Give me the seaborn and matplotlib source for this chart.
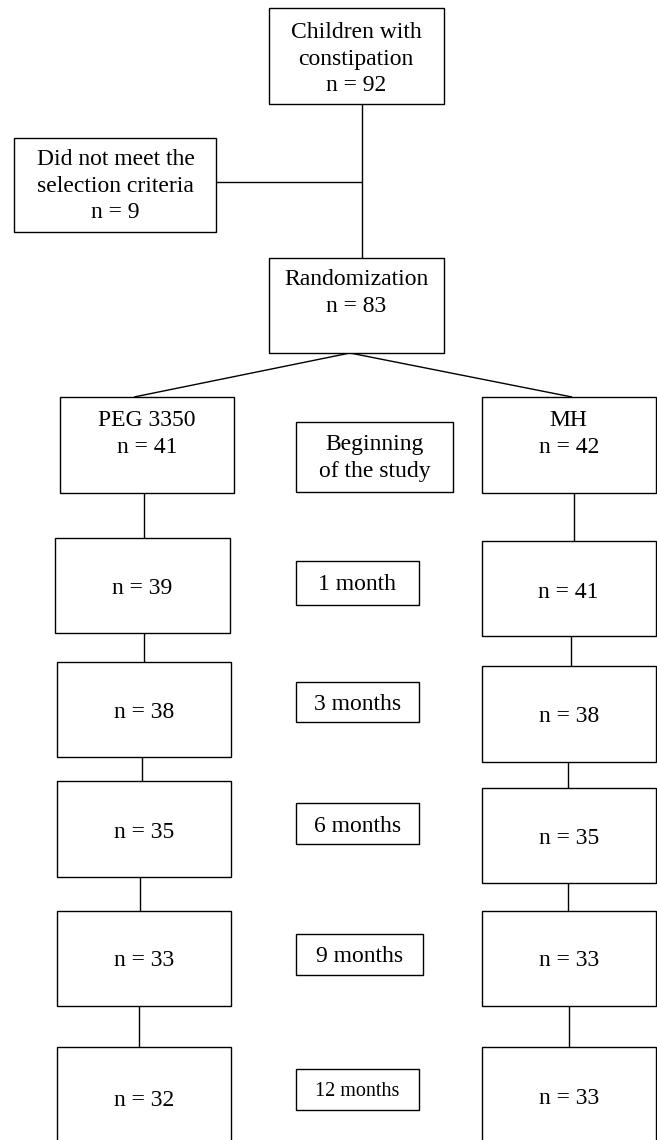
import matplotlib
matplotlib.use("Agg")
import matplotlib.pyplot as plt
from matplotlib.patches import Rectangle
import seaborn as sns

# flow numbers
screened_n = 92
excluded_n = 9
randomized_n = 83
groups = ["PEG 3350", "MH"]
timepoints = ["Beginning\nof the study", "1 month", "3 months", "6 months", "9 months", "12 months"]
peg_n = [41, 39, 38, 35, 33, 32]
mh_n = [42, 41, 38, 35, 33, 33]

sns.set_theme(style="white")
plt.rcParams["font.family"] = ["Liberation Serif", "DejaVu Serif"]

fig = plt.figure(figsize=(6.57, 11.4), dpi=100)
ax = fig.add_axes([0, 0, 1, 1])
ax.set_xlim(0, 657)
ax.set_ylim(1140, 0)
ax.axis("off")

FS = 17
LW = 1.0


def box(x0, x1, y0, y1):
    ax.add_patch(Rectangle((x0, y0), x1 - x0, y1 - y0, fill=True, fc="white",
                           ec="black", lw=LW, zorder=2))


def label(x, y, s, size=FS):
    ax.text(x, y, s, ha="center", va="center", fontsize=size, color="black",
            linespacing=1.36, zorder=3)


def line(xs, ys):
    ax.plot(xs, ys, color="black", lw=LW, zorder=1, solid_capstyle="butt")


# top part
box(268.7, 443.7, 8, 104)
label(356, 59, "Children with\nconstipation\nn = %d" % screened_n)
line([361.5, 361.5], [104, 258])

box(14, 216, 138, 232)
label(115.5, 186, "Did not meet the\nselection criteria\nn = %d" % excluded_n)
line([216, 361.5], [182, 182])

box(268.7, 443.7, 258, 353)
label(356, 293, "Randomization\nn = %d" % randomized_n)
line([350, 134], [353, 397])
line([350, 572], [353, 397])

# arm columns
left_x = [(59.6, 234), (55, 229.6), (56.7, 231), (56.7, 231), (56.7, 231), (56.7, 231)]
left_y = [(397, 493), (538, 633), (662, 757), (781, 877), (911, 1006), (1047, 1143)]
left_ty = [434, 588, 713, 833, 961, 1100]
left_line_x = [143.6, 143.6, 141.5, 140, 139]

right_x = (481.5, 656)
right_y = [(397, 493), (541, 636), (666, 762), (788, 883), (911, 1006), (1047, 1143)]
right_ty = [434, 592, 717, 838, 961, 1099]
right_line_x = [574, 570.5, 568, 568, 569]

mid_x = [(296, 453), (296, 419), (296, 419), (296, 419), (296, 423), (296, 419)]
mid_y = [(422, 492), (561, 605), (682, 722), (803, 844), (934, 975), (1069, 1110)]
mid_ty = [458, 584, 704, 826, 957, 1091]

for i in range(len(timepoints)):
    # PEG arm
    box(left_x[i][0], left_x[i][1], left_y[i][0], left_y[i][1])
    cx = (left_x[i][0] + left_x[i][1]) / 2
    if i == 0:
        label(cx, left_ty[i], "%s\nn = %d" % (groups[0], peg_n[i]))
    else:
        label(cx, left_ty[i], "n = %d" % peg_n[i])
    # MH arm
    box(right_x[0], right_x[1], right_y[i][0], right_y[i][1])
    rx = (right_x[0] + right_x[1]) / 2
    if i == 0:
        label(rx, right_ty[i], "%s\nn = %d" % (groups[1], mh_n[i]))
    else:
        label(rx, right_ty[i], "n = %d" % mh_n[i])
    # time label
    box(mid_x[i][0], mid_x[i][1], mid_y[i][0], mid_y[i][1])
    label((mid_x[i][0] + mid_x[i][1]) / 2, mid_ty[i], timepoints[i],
          size=14.5 if i == len(timepoints) - 1 else FS)
    # connectors
    if i < len(timepoints) - 1:
        line([left_line_x[i], left_line_x[i]], [left_y[i][1], left_y[i + 1][0]])
        line([right_line_x[i], right_line_x[i]], [right_y[i][1], right_y[i + 1][0]])

fig.savefig("out.png", dpi=100)
